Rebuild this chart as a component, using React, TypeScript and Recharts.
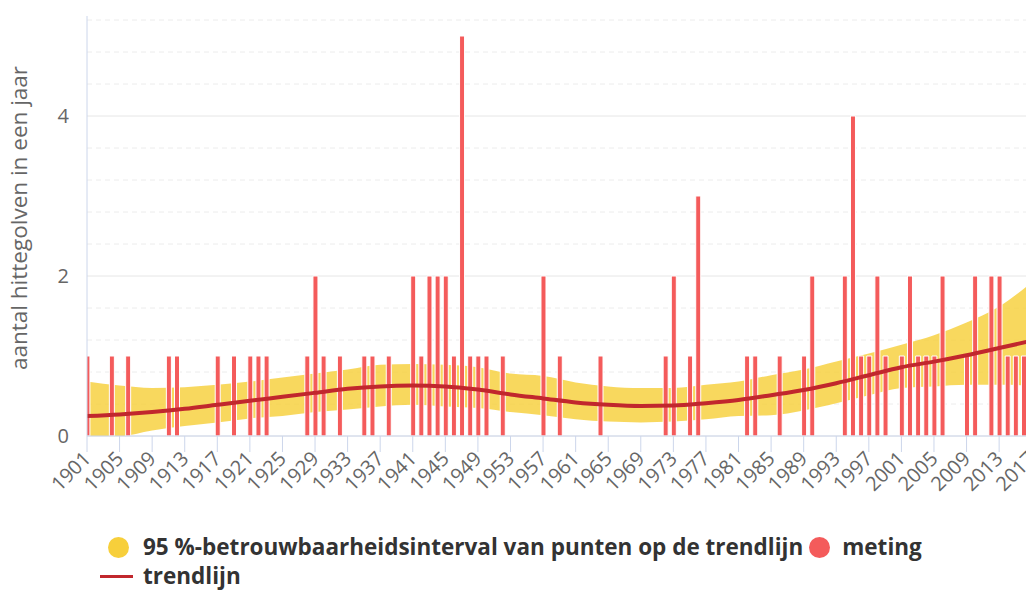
import React from 'react';
import { ComposedChart, Bar, Line, Area, XAxis, YAxis, CartesianGrid } from 'recharts';

const metingYears = [1901,1904,1906,1911,1912,1917,1919,1921,1922,1923,1928,1929,1930,1932,1935,1936,1938,1941,1942,1943,1944,1945,1946,1947,1948,1949,1950,1952,1957,1959,1964,1972,1973,1975,1976,1982,1983,1986,1989,1990,1994,1995,1996,1997,1998,1999,2001,2002,2003,2004,2005,2006,2009,2010,2012,2013,2014,2015,2016];
const metingValues = [1,1,1,1,1, 1,1,1,1,1, 1,2,1,1,1, 1,1,2,1,2, 2,2,1,5,1, 1,1,1,2,1, 1,1,2,1,3, 1,1,1,1,2, 2,4,1,1,2, 1,1,2,1,1, 1,2,1,2,2, 2,1,1,1];

const trendYears = [1901,1905,1909,1913,1917,1921,1925,1929,1933,1937,1941,1945,1949,1953,1957,1961,1965,1969,1973,1977,1981,1985,1989,1993,1997,2001,2005,2009,2013,2017];
const trendValues = [0.25,0.27,0.30,0.34,0.39,0.44,0.49,0.54,0.59,0.62,0.63,0.62,0.58,0.52,0.47,0.42,0.39,0.375,0.38,0.41,0.45,0.51,0.575,0.66,0.76,0.86,0.93,1.01,1.10,1.19];
const bandHigh = [0.68,0.63,0.60,0.61,0.64,0.68,0.73,0.78,0.83,0.89,0.90,0.89,0.86,0.78,0.75,0.67,0.62,0.60,0.60,0.64,0.68,0.76,0.83,0.93,1.03,1.14,1.26,1.42,1.62,1.92];
const bandLow = [0,0,0.07,0.125,0.17,0.22,0.25,0.30,0.33,0.37,0.39,0.37,0.35,0.30,0.26,0.21,0.18,0.17,0.18,0.21,0.25,0.26,0.32,0.41,0.51,0.60,0.62,0.64,0.64,0.63];

const xTicks = [1901,1905,1909,1913,1917,1921,1925,1929,1933,1937,1941,1945,1949,1953,1957,1961,1965,1969,1973,1977,1981,1985,1989,1993,1997,2001,2005,2009,2013,2017];
const yTicks = [0, 2, 4];
const minorGrid = [0.4, 0.8, 1.2, 1.6, 2.4, 2.8, 3.2, 3.6, 4.4, 4.8, 5.2];

const yLabel = 'aantal hittegolven in een jaar';
const bandName = '95 %-betrouwbaarheidsinterval van punten op de trendlijn';
const metingName = 'meting';
const trendName = 'trendlijn';

const rowMap: Record<number, any> = {};
metingYears.forEach((y, i) => {
  rowMap[y] = { ...(rowMap[y] || { year: y }), meting: metingValues[i] };
});
trendYears.forEach((y, i) => {
  rowMap[y] = { ...(rowMap[y] || { year: y }), trend: trendValues[i], band: [bandLow[i], bandHigh[i]] };
});
const rows = Object.values(rowMap).sort((a: any, b: any) => a.year - b.year);

const FONT = '"Open Sans", sans-serif';
const PLOT_BOTTOM = 436;

const XTick = (props: any) => {
  const { x, payload } = props;
  const ax = x + 5;
  const ay = PLOT_BOTTOM + 24;
  return (
    <text x={ax} y={ay} transform={`rotate(-45 ${ax} ${ay})`} textAnchor="end" fill="#666" fontSize={20} fontFamily={FONT}>
      {payload.value}
    </text>
  );
};

const YLabel = () => (
  <text x={27} y={218} transform="rotate(-90 27 218)" textAnchor="middle" fill="#666" fontSize={22.5} fontFamily={FONT}>
    {yLabel}
  </text>
);

export default function App() {
  return (
    <div style={{ position: 'absolute', left: 0, top: 0, width: 1026, height: 592, overflow: 'hidden', background: '#fff' }}>
      <ComposedChart width={1048} height={520} data={rows} margin={{ top: 16, right: 0, bottom: 0, left: 0 }}>
        <CartesianGrid horizontalValues={minorGrid} vertical={false} stroke="#ececec" strokeDasharray="5 4" />
        <CartesianGrid horizontalValues={yTicks} vertical={false} stroke="#e6e6e6" />
        <XAxis
          type="number"
          dataKey="year"
          domain={[1901, 2019]}
          ticks={xTicks}
          interval={0}
          allowDataOverflow
          height={84}
          tickSize={16}
          tickMargin={0}
          stroke="#ccd6eb"
          tick={<XTick />}
        />
        <YAxis
          type="number"
          domain={[0, 5.25]}
          ticks={yTicks}
          allowDataOverflow
          width={87}
          tickLine={false}
          tickSize={0}
          tickMargin={18}
          stroke="#ccd6eb"
          tick={{ fill: '#666', fontSize: 20, fontFamily: FONT }}
          label={{ content: () => <YLabel /> }}
        />
        <Area
          dataKey="band"
          name={bandName}
          type="monotone"
          connectNulls
          stroke="none"
          fill="#f7cf3b"
          fillOpacity={0.82}
          isAnimationActive={false}
          dot={false}
          activeDot={false}
        />
        <Bar
          dataKey="meting"
          name={metingName}
          barSize={5}
          fill="#f45b5b"
          stroke="#ffffff"
          strokeWidth={1}
          isAnimationActive={false}
        />
        <Line
          dataKey="trend"
          name={trendName}
          type="monotone"
          connectNulls
          stroke="#c1272d"
          strokeWidth={4}
          dot={false}
          activeDot={false}
          isAnimationActive={false}
        />
      </ComposedChart>
      <div style={{ position: 'absolute', left: 108, top: 534, fontFamily: FONT, fontWeight: 700, fontSize: 22.5, color: '#333' }}>
        <div style={{ display: 'flex', alignItems: 'center', whiteSpace: 'nowrap', height: 26, lineHeight: '26px' }}>
          <span style={{ display: 'inline-block', width: 21, height: 21, borderRadius: 11, background: '#f7cf3b', marginRight: 14 }} />
          <span>{bandName}</span>
          <span style={{ display: 'inline-block', width: 21, height: 21, borderRadius: 11, background: '#f45b5b', marginLeft: 6, marginRight: 12 }} />
          <span>{metingName}</span>
        </div>
        <div style={{ display: 'flex', alignItems: 'center', whiteSpace: 'nowrap', height: 22, lineHeight: '22px', marginTop: 5, marginLeft: -8 }}>
          <span style={{ display: 'inline-block', width: 33, height: 3, background: '#c1272d', marginRight: 10 }} />
          <span>{trendName}</span>
        </div>
      </div>
    </div>
  );
}
